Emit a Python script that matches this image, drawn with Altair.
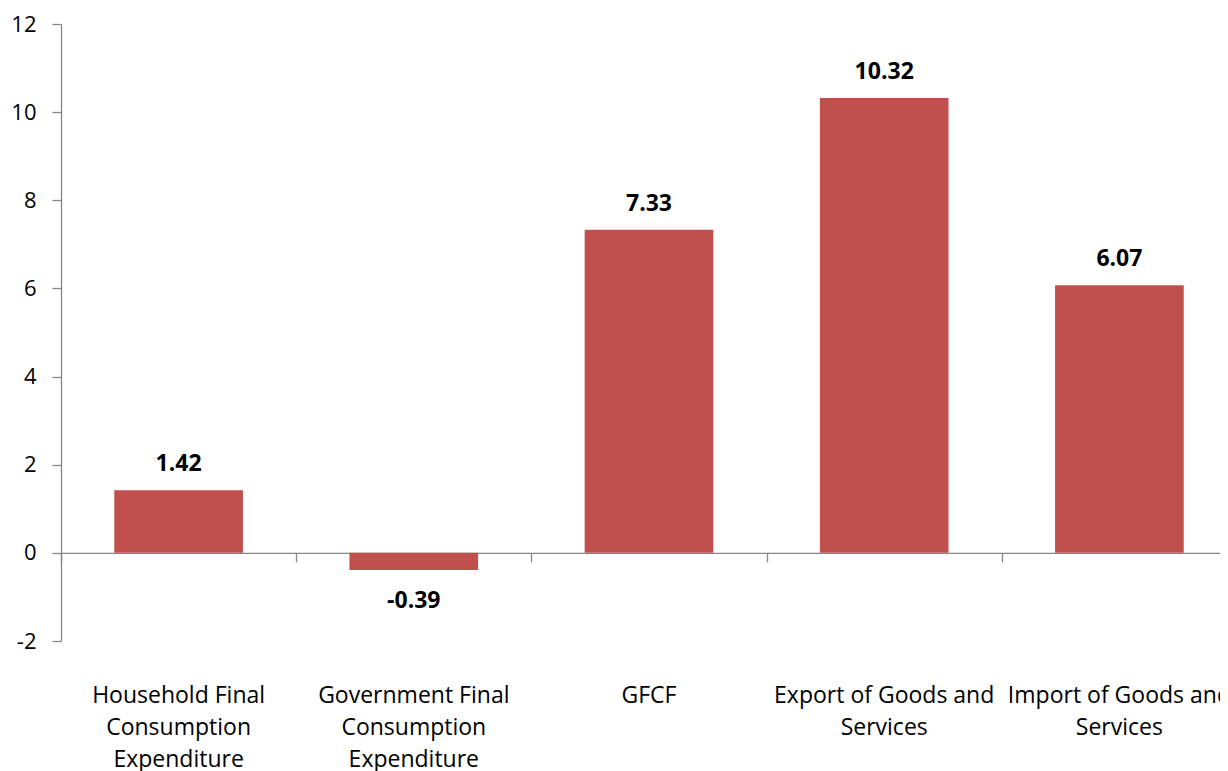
import altair as alt
import pandas as pd

categories = [
    "Household Final Consumption Expenditure",
    "Government Final Consumption Expenditure",
    "GFCF",
    "Export of Goods and Services",
    "Import of Goods and Services",
]
label_lines = [
    "Household Final|Consumption|Expenditure",
    "Government Final|Consumption|Expenditure",
    "GFCF",
    "Export of Goods and|Services",
    "Import of Goods and|Services",
]
values = [1.42, -0.39, 7.33, 10.32, 6.07]
y_ticks = [-2, 0, 2, 4, 6, 8, 10, 12]

df = pd.DataFrame({"cat": categories, "lab": label_lines, "value": values})
df["txt"] = df["value"].map(lambda v: f"{v:.2f}")

FONT = "Open Sans"
FS = 22
FS_CAT = 23
FS_VAL = 23
AX = "#868686"
W, H = 1159, 617
STEP_TOTAL = 1176

xenc = alt.X(
    "cat:N",
    sort=categories,
    scale=alt.Scale(range=[0, STEP_TOTAL], paddingInner=0, paddingOuter=0),
    axis=alt.Axis(
        title=None,
        orient="bottom",
        offset=-(H * 2 / 14),
        labels=False,
        domain=True,
        domainColor=AX,
        domainWidth=1.3,
        ticks=True,
        tickBand="extent",
        tickColor=AX,
        tickSize=9,
        tickWidth=1.3,
        grid=False,
    ),
)
yenc = alt.Y(
    "value:Q",
    scale=alt.Scale(domain=[-2, 12], nice=False, zero=False),
    axis=alt.Axis(
        title=None,
        values=y_ticks,
        labelExpr="'' + datum.value",
        grid=False,
        domainColor=AX,
        domainWidth=1.3,
        tickColor=AX,
        tickSize=9,
        tickWidth=1.3,
        labelFont=FONT,
        labelFontSize=FS,
        labelColor="#000000",
        labelPadding=16,
    ),
)

base = alt.Chart(df)

bars = base.mark_bar(color="#C0504D", width=alt.RelativeBandSize(0.547)).encode(
    x=xenc, y=yenc, y2=alt.datum(0)
)

pos_txt = base.transform_filter("datum.value >= 0").mark_text(
    font=FONT, fontSize=FS_VAL, fontWeight="bold", color="#000000", dy=-19, baseline="alphabetic"
).encode(x=alt.X("cat:N", sort=categories), y="value:Q", text="txt:N")

neg_txt = base.transform_filter("datum.value < 0").mark_text(
    font=FONT, fontSize=FS_VAL, fontWeight="bold", color="#000000", dy=37.5, baseline="alphabetic"
).encode(x=alt.X("cat:N", sort=categories), y="value:Q", text="txt:N")

cat_txt = base.mark_text(
    font=FONT, fontSize=FS_CAT, color="#000000", dy=62, baseline="alphabetic",
    lineBreak="|", lineHeight=32, align="center",
).encode(x=alt.X("cat:N", sort=categories), y=alt.datum(-2), text="lab:N")

chart = (
    alt.layer(bars, pos_txt, neg_txt, cat_txt)
    .properties(
        width=W,
        height=H,
        autosize=alt.AutoSizeParams(type="none"),
        padding={"left": 53, "top": 16, "right": 0, "bottom": 130},
        background="#ffffff",
    )
    .configure_view(stroke=None)
)

chart.save("out.html", embed_options={"renderer": "svg", "actions": False})
